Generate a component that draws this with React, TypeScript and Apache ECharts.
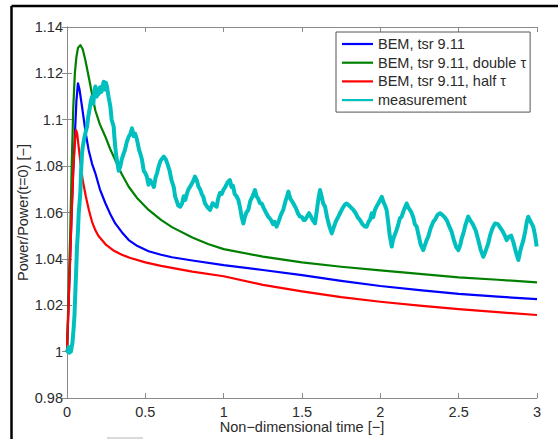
import { useEffect, useRef } from "react";
import * as echarts from "echarts";

// ---- data ----
const blueT = [0, 0.01, 0.02, 0.03, 0.04, 0.05, 0.06, 0.07, 0.08, 0.096, 0.12, 0.138, 0.16, 0.181, 0.21, 0.245, 0.275, 0.308, 0.35, 0.394, 0.45, 0.521, 0.6, 0.67, 0.8, 1.0, 1.25, 1.5, 1.75, 2.0, 2.25, 2.5, 2.75, 3.0];
const blueV = [1.0, 1.02, 1.04, 1.06, 1.078, 1.093, 1.108, 1.1157, 1.113, 1.1056, 1.094, 1.087, 1.081, 1.0769, 1.07, 1.064, 1.0595, 1.0553, 1.0515, 1.0481, 1.0455, 1.0433, 1.0418, 1.0407, 1.0393, 1.0373, 1.0352, 1.033, 1.0305, 1.0283, 1.0265, 1.0249, 1.0237, 1.0226];

const greenT = [0, 0.01, 0.02, 0.03, 0.04, 0.05, 0.06, 0.07, 0.085, 0.1, 0.117, 0.14, 0.16, 0.181, 0.21, 0.245, 0.275, 0.308, 0.35, 0.394, 0.45, 0.521, 0.6, 0.67, 0.8, 0.9, 1.0, 1.25, 1.5, 1.75, 2.0, 2.25, 2.5, 2.75, 3.0];
const greenV = [1.0, 1.025, 1.05, 1.08, 1.105, 1.12, 1.127, 1.131, 1.1322, 1.1305, 1.1258, 1.118, 1.111, 1.104, 1.098, 1.0927, 1.0875, 1.0826, 1.0765, 1.0711, 1.066, 1.0611, 1.0568, 1.0537, 1.0492, 1.0464, 1.0442, 1.041, 1.0385, 1.0366, 1.035, 1.0335, 1.032, 1.031, 1.0299];

const redT = [0, 0.01, 0.02, 0.03, 0.04, 0.05, 0.057, 0.065, 0.075, 0.085, 0.1, 0.12, 0.14, 0.16, 0.18, 0.2, 0.25, 0.3, 0.35, 0.4, 0.5, 0.6, 0.8, 1.0, 1.25, 1.5, 1.75, 2.0, 2.25, 2.5, 2.75, 3.0];
const redV = [1.0, 1.02, 1.04, 1.06, 1.078, 1.09, 1.0956, 1.094, 1.088, 1.082, 1.074, 1.067, 1.061, 1.056, 1.0525, 1.05, 1.046, 1.0435, 1.0418, 1.0405, 1.0385, 1.037, 1.0345, 1.0325, 1.0288, 1.026, 1.0235, 1.0215, 1.0198, 1.0183, 1.017, 1.0158];

const measT = [0, 0.005, 0.01, 0.015, 0.02, 0.025, 0.03, 0.035, 0.043, 0.048, 0.053, 0.058, 0.064, 0.07, 0.075, 0.08, 0.085, 0.09, 0.096, 0.1, 0.11, 0.12, 0.128, 0.135, 0.145, 0.152, 0.16, 0.168, 0.175, 0.181, 0.19, 0.195, 0.202, 0.21, 0.22, 0.234, 0.24, 0.248, 0.255, 0.265, 0.277, 0.285, 0.298, 0.303, 0.308, 0.315, 0.319, 0.33, 0.34, 0.35, 0.362, 0.37, 0.38, 0.394, 0.405, 0.415, 0.425, 0.435, 0.447, 0.46, 0.47, 0.479, 0.49, 0.5, 0.51, 0.52, 0.53, 0.543, 0.555, 0.565, 0.575, 0.585, 0.595, 0.605, 0.617, 0.63, 0.64, 0.655, 0.667, 0.681, 0.69, 0.7, 0.71, 0.723, 0.735, 0.745, 0.755, 0.765, 0.775, 0.785, 0.798, 0.808, 0.817, 0.828, 0.84, 0.85, 0.86, 0.87, 0.88, 0.89, 0.9, 0.913, 0.93, 0.945, 0.955, 0.965, 0.976, 0.988, 0.998, 1.01, 1.025, 1.04, 1.05, 1.06, 1.07, 1.082, 1.094, 1.105, 1.115, 1.126, 1.135, 1.145, 1.157, 1.17, 1.185, 1.2, 1.21, 1.22, 1.232, 1.243, 1.255, 1.27, 1.285, 1.3, 1.315, 1.325, 1.338, 1.35, 1.365, 1.38, 1.395, 1.405, 1.413, 1.425, 1.435, 1.445, 1.46, 1.475, 1.487, 1.5, 1.51, 1.519, 1.53, 1.545, 1.555, 1.57, 1.583, 1.595, 1.605, 1.615, 1.625, 1.635, 1.647, 1.66, 1.675, 1.69, 1.7, 1.715, 1.732, 1.745, 1.76, 1.775, 1.785, 1.8, 1.815, 1.828, 1.84, 1.855, 1.87, 1.885, 1.9, 1.913, 1.925, 1.934, 1.945, 1.955, 1.965, 1.975, 1.987, 2.0, 2.009, 2.02, 2.03, 2.04, 2.05, 2.06, 2.073, 2.08, 2.09, 2.104, 2.115, 2.125, 2.136, 2.15, 2.168, 2.18, 2.195, 2.21, 2.22, 2.232, 2.245, 2.258, 2.274, 2.285, 2.295, 2.306, 2.32, 2.338, 2.35, 2.365, 2.381, 2.395, 2.41, 2.425, 2.44, 2.455, 2.47, 2.485, 2.498, 2.51, 2.52, 2.53, 2.545, 2.561, 2.575, 2.59, 2.61, 2.625, 2.64, 2.657, 2.67, 2.689, 2.7, 2.715, 2.732, 2.75, 2.765, 2.78, 2.795, 2.806, 2.82, 2.835, 2.85, 2.865, 2.881, 2.895, 2.913, 2.925, 2.935, 2.944, 2.96, 2.976, 2.988, 2.998];
const measV = [1.001, 1.0, 1.002, 0.9995, 1.001, 1.0, 1.002, 1.004, 1.0107, 1.016, 1.0252, 1.034, 1.0453, 1.052, 1.06, 1.064, 1.0683, 1.078, 1.0855, 1.088, 1.092, 1.095, 1.097, 1.101, 1.105, 1.108, 1.11, 1.107, 1.112, 1.1143, 1.11, 1.113, 1.1111, 1.114, 1.112, 1.1164, 1.113, 1.116, 1.1143, 1.11, 1.1056, 1.1, 1.097, 1.092, 1.0884, 1.084, 1.0826, 1.078, 1.0798, 1.083, 1.0855, 1.087, 1.09, 1.0927, 1.094, 1.0963, 1.093, 1.094, 1.0913, 1.087, 1.085, 1.0826, 1.078, 1.077, 1.0754, 1.072, 1.074, 1.0726, 1.071, 1.075, 1.077, 1.0798, 1.082, 1.083, 1.0841, 1.083, 1.0812, 1.078, 1.074, 1.0711, 1.067, 1.065, 1.063, 1.0625, 1.064, 1.067, 1.0654, 1.068, 1.07, 1.071, 1.0726, 1.074, 1.0755, 1.074, 1.071, 1.07, 1.068, 1.0668, 1.064, 1.063, 1.062, 1.0611, 1.064, 1.063, 1.0625, 1.066, 1.0684, 1.068, 1.0697, 1.071, 1.073, 1.074, 1.071, 1.0715, 1.068, 1.067, 1.0654, 1.062, 1.058, 1.0553, 1.058, 1.06, 1.0611, 1.065, 1.067, 1.0697, 1.067, 1.066, 1.064, 1.0639, 1.062, 1.06, 1.0582, 1.057, 1.055, 1.056, 1.0539, 1.056, 1.059, 1.0611, 1.065, 1.067, 1.069, 1.066, 1.065, 1.0639, 1.062, 1.0595, 1.0582, 1.058, 1.0568, 1.0568, 1.058, 1.0597, 1.0585, 1.0565, 1.0553, 1.061, 1.066, 1.0697, 1.067, 1.064, 1.0625, 1.058, 1.054, 1.051, 1.053, 1.056, 1.0582, 1.06, 1.062, 1.0635, 1.0639, 1.063, 1.062, 1.0611, 1.06, 1.058, 1.0568, 1.055, 1.054, 1.0539, 1.056, 1.0568, 1.0597, 1.058, 1.061, 1.0625, 1.0639, 1.0655, 1.0668, 1.0645, 1.063, 1.0611, 1.056, 1.05, 1.0453, 1.048, 1.05, 1.0525, 1.055, 1.0575, 1.0582, 1.061, 1.0639, 1.062, 1.0605, 1.058, 1.055, 1.0539, 1.05, 1.046, 1.0438, 1.046, 1.048, 1.0496, 1.053, 1.056, 1.057, 1.059, 1.0597, 1.059, 1.058, 1.0565, 1.054, 1.0517, 1.048, 1.045, 1.0438, 1.046, 1.049, 1.051, 1.055, 1.0582, 1.0565, 1.055, 1.052, 1.0481, 1.044, 1.0409, 1.043, 1.0467, 1.05, 1.053, 1.0553, 1.055, 1.0535, 1.052, 1.05, 1.0481, 1.0495, 1.05, 1.047, 1.043, 1.0395, 1.044, 1.0481, 1.052, 1.056, 1.0582, 1.056, 1.0539, 1.05, 1.0453];

const seriesNames = ["BEM, tsr 9.11", "BEM, tsr 9.11, double τ", "BEM, tsr 9.11, half τ", "measurement"];
const seriesColors = ["#0000ff", "#008000", "#ff0000", "#00bfbf"];
const xAxisName = "Non\u2212dimensional time [\u2212]";
const yAxisName = "Power/Power(t=0) [\u2212]";

const zip = (t: number[], v: number[]) => t.map((x, i) => [x, v[i]]);

const FONT = "'Liberation Sans', Arial, sans-serif";
const AXIS_GRAY = "#8a8a8a";
const TEXT = "#2b2b2b";

export default function App() {
  const ref = useRef<HTMLDivElement>(null);
  useEffect(() => {
    const chart = echarts.init(ref.current!, null, { renderer: "svg" });
    const baseAxis = {
      type: "value" as const,
      axisLine: { show: true, lineStyle: { color: AXIS_GRAY, width: 1 } },
      axisTick: { show: true, inside: true, length: 5, lineStyle: { color: AXIS_GRAY } },
      splitLine: { show: false },
    };
    const lineSeries = (i: number, data: number[][], width: number) => ({
      name: seriesNames[i],
      type: "line" as const,
      data,
      symbol: "none",
      showSymbol: false,
      smooth: false,
      lineStyle: { color: seriesColors[i], width, join: "round" },
      itemStyle: { color: seriesColors[i] },
      z: 2 + i,
    });
    chart.setOption({
      animation: false,
      backgroundColor: "#ffffff",
      textStyle: { fontFamily: FONT },
      grid: { left: 67, top: 27, right: 21, bottom: 41, containLabel: false },
      xAxis: [
        {
          ...baseAxis,
          min: 0,
          max: 3,
          interval: 0.5,
          position: "bottom",
          name: xAxisName,
          nameLocation: "middle",
          nameGap: 21,
          nameMoveOverlap: false,
          nameTextStyle: { fontSize: 14.5, color: TEXT, fontFamily: FONT },
          axisLabel: { margin: 6, fontSize: 14.5, color: TEXT, fontFamily: FONT },
        },
        {
          ...baseAxis,
          min: 0,
          max: 3,
          interval: 0.5,
          position: "top",
          axisLabel: { show: false },
        },
      ],
      yAxis: [
        {
          ...baseAxis,
          min: 0.98,
          max: 1.14,
          interval: 0.02,
          position: "left",
          name: yAxisName,
          nameLocation: "middle",
          nameGap: 37,
          nameMoveOverlap: false,
          nameTextStyle: { fontSize: 14.5, color: TEXT, fontFamily: FONT },
          axisLabel: { margin: 4, fontSize: 14.5, color: TEXT, fontFamily: FONT },
        },
        {
          ...baseAxis,
          min: 0.98,
          max: 1.14,
          interval: 0.02,
          position: "right",
          axisLabel: { show: false },
        },
      ],
      legend: {
        orient: "vertical",
        left: 336,
        top: 32,
        data: seriesNames.map((name) => ({ name, icon: "rect" })),
        itemWidth: 31,
        itemHeight: 2.2,
        itemGap: 2.7,
        padding: [4, 4, 4, 6],
        backgroundColor: "#ffffff",
        borderColor: "#555555",
        borderWidth: 1,
        borderRadius: 0,
        textStyle: { fontSize: 14.5, color: TEXT, fontFamily: FONT, lineHeight: 16 },
      },
      graphic: [
        { type: "line", shape: { x1: 11.5, y1: 6, x2: 558, y2: 6 }, style: { stroke: "#000", lineWidth: 2.5 } },
        { type: "line", shape: { x1: 11.5, y1: 6, x2: 11.5, y2: 439 }, style: { stroke: "#000", lineWidth: 2.5 } },
        { type: "rect", shape: { x: 107, y: 437, width: 36, height: 2 }, style: { fill: "#d9d9d9" } },
      ],
      series: [
        lineSeries(0, zip(blueT, blueV), 2.2),
        lineSeries(1, zip(greenT, greenV), 2.2),
        lineSeries(2, zip(redT, redV), 2.2),
        lineSeries(3, zip(measT, measV), 4),
      ],
    });
    return () => chart.dispose();
  }, []);
  return (
    <div
      ref={ref}
      style={{ position: "absolute", left: 0, top: 0, width: 558, height: 439 }}
    />
  );
}
